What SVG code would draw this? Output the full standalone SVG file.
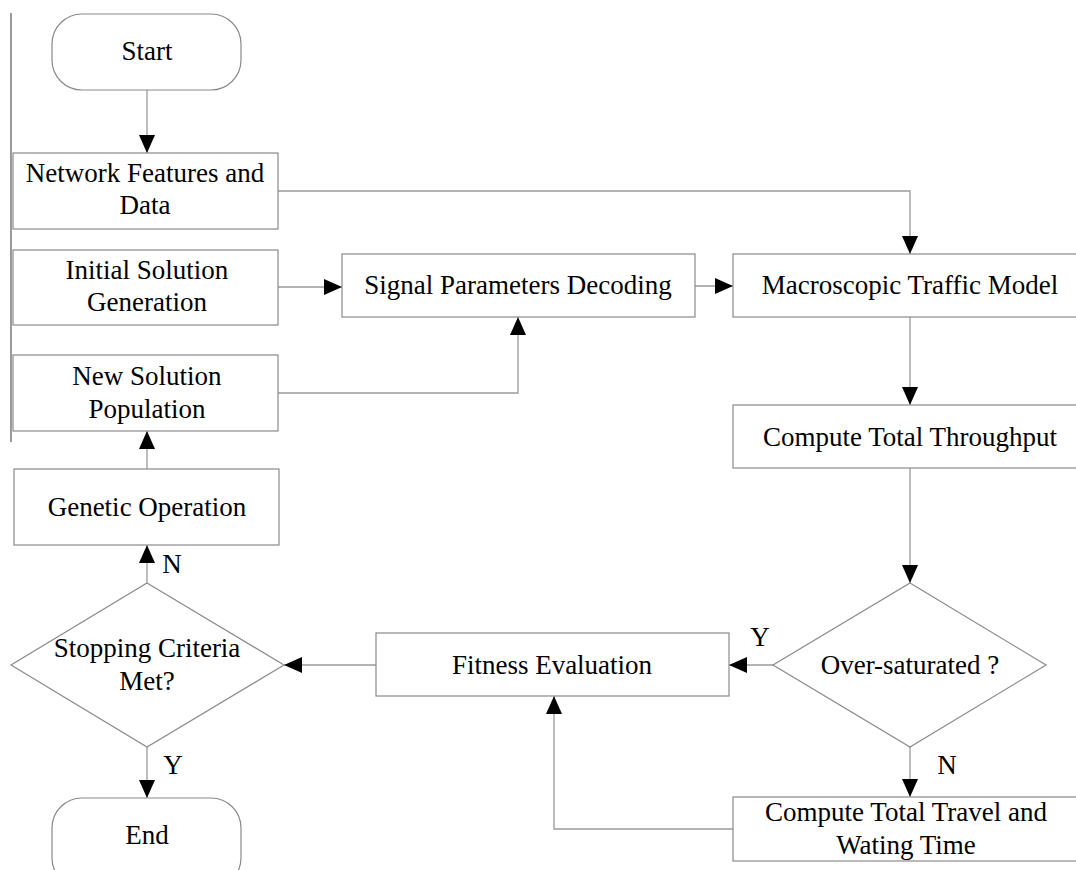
<svg xmlns="http://www.w3.org/2000/svg" width="1076" height="870" viewBox="0 0 1076 870" font-family="'Liberation Serif', 'Times New Roman', Tinos, 'DejaVu Serif', serif">
<style>
.box{fill:#fff;stroke:#8a8a8a;stroke-width:1.2}
.ln{fill:none;stroke:#9a9a9a;stroke-width:1.3}
.t{font-family:"Liberation Serif","Times New Roman",Tinos,"DejaVu Serif",serif;font-size:27px;fill:#000;text-anchor:middle}
</style>
<defs>
<marker id="ah" viewBox="0 0 18 16" refX="18" refY="8" markerWidth="18" markerHeight="16" markerUnits="userSpaceOnUse" orient="auto">
<path d="M0,0 L18,8 L0,16 Z" fill="#000"/>
</marker>
</defs>
<line x1="11" y1="13" x2="11" y2="442" stroke="#777" stroke-width="1.5"/>
<g id="connectors">
<path class="ln" d="M147,90 V153" marker-end="url(#ah)"/>
<path class="ln" d="M278,191 H910 V254" marker-end="url(#ah)"/>
<path class="ln" d="M278,287 H342" marker-end="url(#ah)"/>
<path class="ln" d="M278,393 H518 V317" marker-end="url(#ah)"/>
<path class="ln" d="M695,286 H733" marker-end="url(#ah)"/>
<path class="ln" d="M910,317 V405" marker-end="url(#ah)"/>
<path class="ln" d="M910,468 V583" marker-end="url(#ah)"/>
<path class="ln" d="M773,665 H729" marker-end="url(#ah)"/>
<path class="ln" d="M910,747 V797" marker-end="url(#ah)"/>
<path class="ln" d="M733,829 H554 V696" marker-end="url(#ah)"/>
<path class="ln" d="M376,665 H284" marker-end="url(#ah)"/>
<path class="ln" d="M147,583 V545" marker-end="url(#ah)"/>
<path class="ln" d="M147,469 V431" marker-end="url(#ah)"/>
<path class="ln" d="M147,747 V798" marker-end="url(#ah)"/>
<text class="t" x="760" y="646">Y</text>
<text class="t" x="947" y="774">N</text>
<text class="t" x="172" y="573">N</text>
<text class="t" x="173" y="774">Y</text>
</g>
<g id="start"><rect class="box" x="52" y="14" width="189" height="76" rx="30"/><text class="t" x="147" y="60">Start</text></g>
<g id="network"><rect class="box" x="13" y="153" width="265" height="76"/><text class="t" x="145" y="182">Network Features and</text><text class="t" x="145" y="214">Data</text></g>
<g id="initial"><rect class="box" x="13" y="250" width="265" height="75"/><text class="t" x="147" y="279">Initial Solution</text><text class="t" x="147" y="311">Generation</text></g>
<g id="newsol"><rect class="box" x="13" y="355" width="265" height="76"/><text class="t" x="147" y="385">New Solution</text><text class="t" x="147" y="418">Population</text></g>
<g id="genetic"><rect class="box" x="14" y="469" width="265" height="76"/><text class="t" x="147" y="516">Genetic Operation</text></g>
<g id="stopping"><polygon class="box" points="147,583 284,665 147,747 11,665"/><text class="t" x="147" y="657">Stopping Criteria</text><text class="t" x="147" y="690">Met?</text></g>
<g id="end"><rect class="box" x="52" y="798" width="189" height="90" rx="30"/><text class="t" x="147" y="844">End</text></g>
<g id="decoding"><rect class="box" x="342" y="254" width="353" height="63"/><text class="t" x="518" y="294">Signal Parameters Decoding</text></g>
<g id="macro"><rect class="box" x="733" y="254" width="354" height="63"/><text class="t" x="910" y="294">Macroscopic Traffic Model</text></g>
<g id="throughput"><rect class="box" x="733" y="405" width="354" height="63"/><text class="t" x="910" y="446">Compute Total Throughput</text></g>
<g id="oversat"><polygon class="box" points="910,583 1046,665 910,747 773,665"/><text class="t" x="910" y="674">Over-saturated ?</text></g>
<g id="fitness"><rect class="box" x="376" y="633" width="353" height="63"/><text class="t" x="552" y="674">Fitness Evaluation</text></g>
<g id="travel"><rect class="box" x="733" y="797" width="354" height="64"/><text class="t" x="906" y="821">Compute Total Travel and</text><text class="t" x="906" y="854">Wating Time</text></g>
</svg>
